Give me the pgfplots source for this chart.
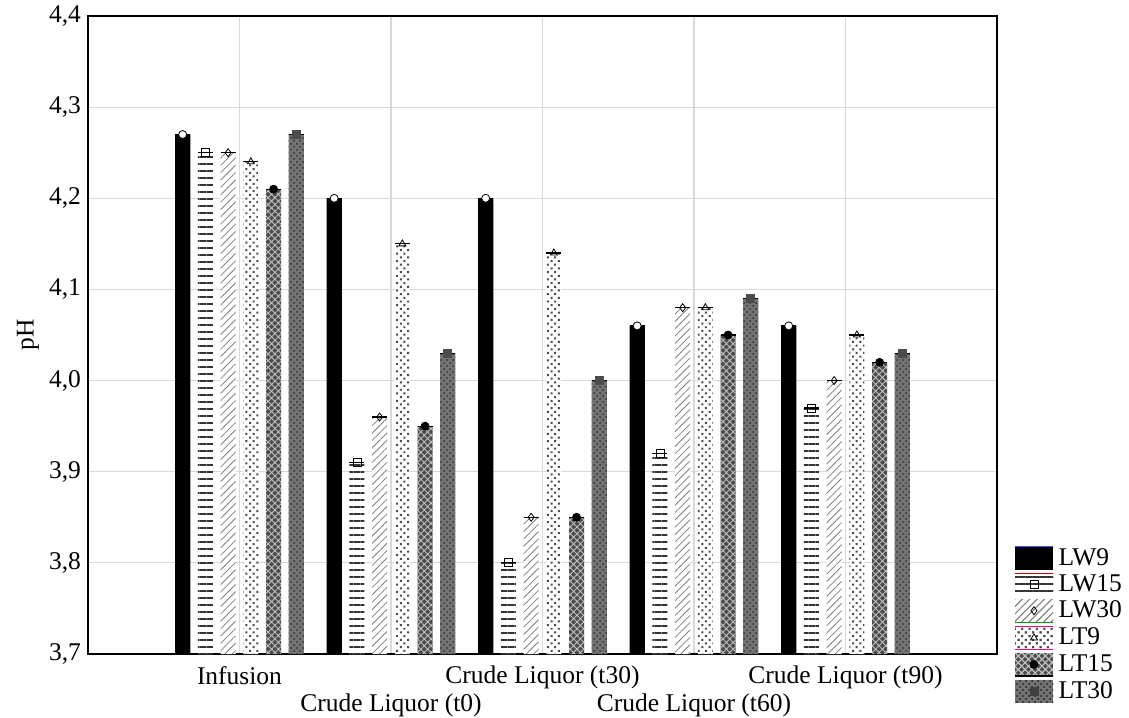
\documentclass[border=0pt]{standalone}
\usepackage{fontspec}
\setmainfont{Liberation Serif}
\usepackage{pgfplots}
\pgfplotsset{compat=1.18}
\usepackage{pgfplotstable}
\usetikzlibrary{patterns,patterns.meta}

\newcommand{\fs}{\fontsize{12.75pt}{15pt}\selectfont}

\tikzset{
 lw9/.style={fill=black, draw=none},
 lw15/.style={fill=white, draw=none, postaction={pattern={Lines[angle=0,distance=3.5pt,line width=0.6pt]}, pattern color=black!80}},
 lw30/.style={fill=white, draw=none, postaction={pattern={Lines[angle=45,distance=2.6pt,line width=0.4pt]}, pattern color=black!50}},
 lt9/.style={fill=white, draw=none, postaction={pattern={Dots[angle=45,distance=2.6pt,radius=0.7pt]}, pattern color=black!70}},
 lt15/.style={fill=black!70, draw=none, postaction={pattern={Hatch[angle=45,distance=2.4pt,line width=0.45pt]}, pattern color=black!25}},
 lt30/.style={fill=black!55, draw=none, postaction={pattern=crosshatch dots, pattern color=black!80}},
}

% series tables: x position, pH
\pgfplotstableread{
x y
0.625 4.27
1.625 4.20
2.625 4.20
3.625 4.06
4.625 4.06
}\lwnine
\pgfplotstableread{
x y
0.775 4.25
1.775 3.91
2.775 3.80
3.775 3.92
4.775 3.97
}\lwfifteen
\pgfplotstableread{
x y
0.925 4.25
1.925 3.96
2.925 3.85
3.925 4.08
4.925 4.00
}\lwthirty
\pgfplotstableread{
x y
1.075 4.24
2.075 4.15
3.075 4.14
4.075 4.08
5.075 4.05
}\ltnine
\pgfplotstableread{
x y
1.225 4.21
2.225 3.95
3.225 3.85
4.225 4.05
5.225 4.02
}\ltfifteen
\pgfplotstableread{
x y
1.375 4.27
2.375 4.03
3.375 4.00
4.375 4.09
5.375 4.03
}\ltthirty

\pgfplotsset{
 barplot/.style={ybar, bar width=0.1, bar shift=0pt},
 markplot/.style={only marks, forget plot, mark size=2pt, line width=0.4pt,
   error bars/y dir=plus, error bars/y fixed=0, error bars/error mark=|,
   error bars/error mark options={black, mark size=3.75pt, line width=0.6pt}},
 every extra x tick/.style={grid=none, xticklabel style={yshift=-14pt}},
}

\begin{document}
\begin{tikzpicture}
\begin{axis}[
 name=ax,
 scale only axis, width=454.5pt, height=319pt,
 xmin=0, xmax=6, ymin=3.7, ymax=4.4,
 xtick={1,2,3,4,5},
 xticklabels={Infusion,,Crude Liquor (t30),,Crude Liquor (t90)},
 xticklabel style={yshift=-2.5pt},
 extra x ticks={2,4},
 extra x tick labels={Crude Liquor (t0), Crude Liquor (t60)},
 ytick={3.7,3.8,3.9,4.0,4.1,4.2,4.3,4.4},
 yticklabels={{3,7},{3,8},{3,9},{4,0},{4,1},{4,2},{4,3},{4,4}},
 grid=major,
 major grid style={draw=black!15, line width=0.6pt},
 tick style={draw=none},
 axis line style={line width=0.6pt},
 ticklabel style={font=\fs},
 ylabel={pH},
 ylabel style={font=\fs, at={(axis description cs:-0.066,0.5)}, anchor=center},
 legend cell align=left,
 legend style={at={(1,0)}, anchor=south west, xshift=5.5pt, yshift=-26.5pt,
   draw=none, fill=none, font=\fs, row sep=1.5pt, nodes={inner sep=0.5pt},
   /tikz/every odd column/.append style={column sep=2pt}},
]
\addplot[barplot, lw9, legend image code/.code={
  \draw[lw9] (0pt,-5.75pt) rectangle (19pt,5.75pt);
  \draw[blue!70, line width=0.5pt] (0pt,5.75pt) -- (19pt,5.75pt);}] table {\lwnine};
\addlegendentry{LW9}
\addplot[barplot, lw15, legend image code/.code={
  \draw[lw15] (0pt,-5.75pt) rectangle (19pt,5.75pt);
  \draw[red!80!black, line width=0.5pt] (0pt,5.75pt) -- (19pt,5.75pt);
  \draw[black, line width=0.4pt] plot[mark=square, mark size=2pt, mark options={fill=white}, only marks] coordinates {(9.5pt,0pt)};}] table {\lwfifteen};
\addlegendentry{LW15}
\addplot[barplot, lw30, legend image code/.code={
  \draw[lw30] (0pt,-5.75pt) rectangle (19pt,5.75pt);
  \draw[green!60!black, line width=0.6pt] (0pt,-5.75pt) -- (19pt,-5.75pt);
  \draw[black, line width=0.4pt] plot[mark=diamond, mark size=2pt, mark options={fill=white}, only marks] coordinates {(9.5pt,0pt)};}] table {\lwthirty};
\addlegendentry{LW30}
\addplot[barplot, lt9, legend image code/.code={
  \draw[lt9] (0pt,-5.75pt) rectangle (19pt,5.75pt);
  \draw[magenta, line width=0.6pt] (0pt,-5.75pt) -- (19pt,-5.75pt);
  \draw[magenta, line width=0.6pt] (0pt,5.75pt) -- (19pt,5.75pt);
  \draw[black, line width=0.4pt] plot[mark=triangle, mark size=2pt, mark options={fill=white}, only marks] coordinates {(9.5pt,0pt)};}] table {\ltnine};
\addlegendentry{LT9}
\addplot[barplot, lt15, legend image code/.code={
  \draw[lt15] (0pt,-5.75pt) rectangle (19pt,5.75pt);
  \draw[black, line width=0.6pt] (0pt,-5.75pt) -- (19pt,-5.75pt);
  \draw[black] plot[mark=*, mark size=2pt, only marks] coordinates {(9.5pt,0pt)};}] table {\ltfifteen};
\addlegendentry{LT15}
\addplot[barplot, lt30, legend image code/.code={
  \draw[lt30] (0pt,-5.75pt) rectangle (19pt,5.75pt);
  \draw[black!75] plot[mark=square*, mark size=2pt, only marks] coordinates {(9.5pt,0pt)};}] table {\ltthirty};
\addlegendentry{LT30}

\addplot[markplot, mark=*, mark options={fill=white, draw=black}] table {\lwnine};
\addplot[markplot, mark=square, mark options={fill=white, draw=black}] table {\lwfifteen};
\addplot[markplot, mark=diamond, mark options={fill=white, draw=black}] table {\lwthirty};
\addplot[markplot, mark=triangle, mark options={fill=white, draw=black}] table {\ltnine};
\addplot[markplot, mark=*, mark options={fill=black, draw=black}] table {\ltfifteen};
\addplot[markplot, mark=square*, mark options={fill=black!70, draw=black!70}] table {\ltthirty};
\end{axis}
\pgfresetboundingbox
\path[use as bounding box] (ax.south west) ++(-44pt,-31.5pt) rectangle ++(564.5pt,358.5pt);
\end{tikzpicture}
\end{document}
